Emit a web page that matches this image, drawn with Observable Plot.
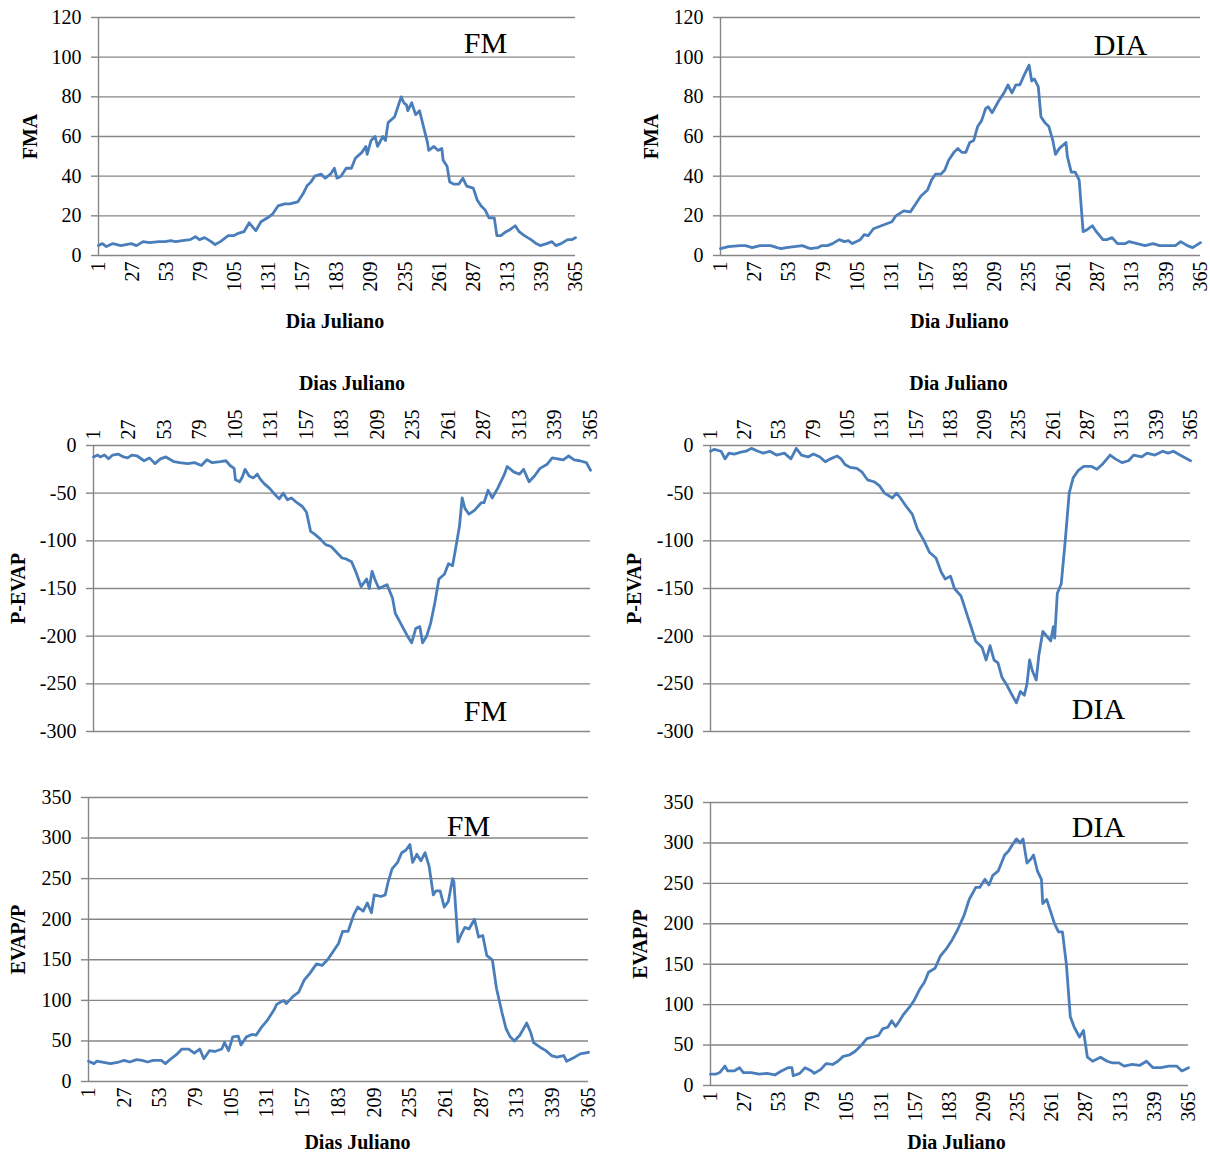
<!DOCTYPE html>
<html>
<head>
<meta charset="utf-8">
<script src="https://cdn.jsdelivr.net/npm/d3@7"></script>
<script src="https://cdn.jsdelivr.net/npm/@observablehq/plot@0.6"></script>
<style>
  html, body { margin: 0; padding: 0; background: #fff; }
  #wrap { position: relative; width: 1210px; height: 1154px; background: #fff; overflow: hidden; }
  #wrap > div { position: absolute; }
  #wrap svg, #wrap svg text { font-family: 'Liberation Serif', 'Times New Roman', Times, serif !important; }
</style>
</head>
<body>
<div id="wrap"></div>
<script>
// ---------- DATA ----------
const dayTicks = [1, 27, 53, 79, 105, 131, 157, 183, 209, 235, 261, 287, 313, 339, 365];
const fmaTicks = [0, 20, 40, 60, 80, 100, 120];
const pevapTicks = [0, -50, -100, -150, -200, -250, -300];
const evapTicks = [0, 50, 100, 150, 200, 250, 300, 350];

// [Julian day, value]
const fmFMA = [[1,5],[4,6],[7,4.5],[12,6],[18,5],[22,5.5],[26,6],[30,5],[35,7],[40,6.5],[47,7],[52,7],[56,7.5],[60,7],[65,7.5],[71,8],[75,9.5],[78,8],[80,8.5],[82,9],[87,7],[90,5.5],[94,7],[100,10],[104,10],[107,11],[112,12],[116,16.5],[121,12.5],[125,17],[130,19],[134,21],[138,25],[143,26],[147,26],[153,27],[157,31],[160,35],[163,37],[166,40],[171,41],[174,39],[178,41],[181,44],[183,39],[186,40],[190,44],[194,44],[197,49],[202,52],[205,55],[206,51],[209,58],[212,60],[214,55],[218,60],[220,58],[222,67],[227,70],[230,76],[232,80],[234,77],[236,76],[237,73],[240,77],[243,71],[246,73],[249,65],[252,57],[253,53],[257,55],[260,53],[263,54],[264,48],[267,45],[269,37],[272,36],[276,36],[279,39],[282,35],[287,34],[290,28],[293,25],[296,23],[299,19],[303,19],[305,10],[308,10],[312,12],[315,13],[319,15],[322,12],[326,10],[331,8],[335,6],[338,5],[343,6],[347,7],[350,5],[354,6],[359,8],[362,8],[365,9]];

const diaFMA = [[1,3.5],[7,4.5],[16,5],[20,5],[25,4],[31,5],[39,5],[44,4],[47,3.5],[51,4],[57,4.5],[63,5],[67,4],[69,3.5],[75,4],[78,5],[82,5],[86,6],[91,8],[95,7],[98,7.5],[101,6],[107,8],[110,10.5],[113,10],[117,13.5],[123,15],[127,16],[131,17],[134,20],[140,22.5],[145,22],[149,26],[153,30],[158,33],[161,38],[164,41],[168,41],[171,43],[174,48],[178,52],[181,54],[184,52],[187,52],[190,57],[193,58],[196,65],[199,68],[202,74],[204,75],[207,72],[212,78],[216,82],[219,86],[222,82],[225,86],[228,86],[232,92],[235,96],[237,88],[239,89],[242,85],[244,70],[247,67],[250,65],[253,58],[255,51],[258,54],[263,57],[264,50],[267,42],[270,42],[273,38],[276,12],[279,13],[283,15],[286,12],[291,8],[294,8],[298,9],[302,6],[308,6],[311,7],[317,6],[323,5],[329,6],[334,5],[340,5],[346,5],[350,7],[355,5],[359,4],[365,6.5]];

const fmPEVAP = [[1,-12],[4,-10],[6,-12],[9,-10],[12,-14],[15,-10],[19,-9],[23,-12],[26,-13],[29,-10],[33,-11],[38,-16],[42,-13],[46,-19],[50,-14],[54,-12],[60,-17],[64,-18],[70,-19],[75,-18],[80,-21],[84,-15],[88,-18],[94,-17],[98,-16],[101,-21],[104,-24],[105,-36],[108,-38],[110,-33],[112,-25],[115,-32],[118,-34],[121,-30],[123,-35],[126,-40],[130,-45],[133,-50],[137,-56],[140,-50],[143,-57],[146,-55],[150,-60],[154,-64],[157,-70],[160,-90],[163,-93],[167,-98],[171,-104],[175,-106],[179,-112],[183,-118],[186,-119],[190,-122],[193,-132],[197,-148],[201,-140],[203,-150],[205,-132],[207,-140],[210,-150],[213,-148],[216,-146],[220,-160],[222,-176],[225,-184],[228,-192],[231,-200],[234,-207],[237,-192],[240,-190],[242,-207],[245,-200],[248,-186],[251,-165],[254,-140],[258,-135],[261,-124],[264,-126],[266,-110],[269,-85],[271,-55],[273,-66],[276,-72],[280,-68],[285,-60],[287,-60],[290,-47],[293,-55],[297,-45],[302,-30],[304,-22],[309,-28],[313,-30],[316,-25],[320,-38],[324,-32],[328,-24],[333,-20],[337,-13],[341,-14],[345,-15],[349,-11],[353,-15],[357,-16],[362,-18],[365,-26]];

const diaPEVAP = [[1,-6],[4,-4],[9,-6],[12,-14],[15,-8],[19,-9],[24,-7],[28,-6],[32,-3],[37,-6],[41,-8],[46,-6],[51,-10],[57,-8],[62,-14],[66,-3],[70,-10],[75,-12],[79,-9],[84,-12],[88,-17],[92,-14],[97,-11],[100,-14],[103,-20],[107,-23],[112,-24],[116,-28],[120,-36],[125,-38],[129,-42],[133,-50],[139,-55],[142,-50],[145,-55],[150,-65],[154,-72],[158,-88],[163,-100],[167,-112],[172,-118],[176,-133],[179,-140],[183,-137],[186,-150],[191,-158],[195,-175],[199,-192],[202,-205],[207,-212],[210,-225],[213,-210],[216,-225],[219,-228],[222,-243],[226,-252],[229,-260],[233,-270],[236,-258],[239,-262],[241,-250],[243,-225],[245,-236],[248,-246],[250,-220],[253,-195],[256,-200],[259,-205],[261,-190],[262,-202],[264,-155],[267,-145],[270,-100],[273,-50],[276,-34],[280,-26],[284,-22],[290,-22],[294,-25],[298,-20],[304,-10],[308,-14],[313,-18],[318,-16],[322,-10],[328,-12],[332,-8],[338,-10],[344,-6],[348,-8],[352,-6],[357,-10],[365,-16]];

const fmEVAPP = [[1,25],[5,22],[7,25],[11,24],[17,22],[23,24],[27,26],[31,24],[36,27],[40,26],[44,24],[48,26],[54,26],[57,22],[61,28],[65,33],[69,40],[74,40],[78,35],[82,40],[85,28],[89,38],[93,37],[98,40],[100,48],[103,38],[106,55],[110,56],[112,45],[116,55],[120,58],[123,57],[127,67],[131,75],[136,88],[138,95],[143,100],[145,96],[150,105],[154,110],[158,125],[162,133],[167,145],[171,143],[175,150],[179,160],[183,170],[186,185],[190,185],[194,205],[197,215],[201,210],[204,220],[207,208],[209,230],[214,228],[217,230],[219,245],[222,262],[226,270],[229,282],[232,285],[235,292],[237,270],[240,280],[243,272],[246,282],[249,265],[252,230],[254,235],[257,235],[260,215],[263,222],[266,250],[267,246],[270,172],[272,180],[275,190],[278,188],[282,200],[285,178],[288,180],[291,155],[295,150],[298,115],[302,85],[305,65],[308,55],[311,50],[315,57],[320,72],[323,60],[325,48],[330,42],[334,38],[338,32],[342,30],[347,32],[349,25],[355,30],[359,34],[365,36]];

const diaEVAPP = [[1,14],[5,14],[8,16],[12,24],[14,18],[19,18],[23,22],[26,16],[32,16],[38,14],[44,15],[50,13],[55,18],[60,22],[63,22],[64,12],[69,15],[73,22],[78,18],[80,15],[85,20],[89,27],[94,26],[98,30],[102,36],[107,38],[111,42],[116,50],[120,58],[125,60],[129,62],[132,70],[136,72],[139,80],[142,73],[145,80],[148,88],[153,98],[156,105],[160,118],[164,128],[167,140],[172,145],[176,160],[181,170],[185,180],[189,192],[194,210],[198,230],[203,245],[206,245],[210,255],[213,248],[216,260],[220,265],[225,285],[228,290],[231,298],[234,305],[237,300],[239,305],[242,275],[245,280],[247,285],[250,265],[253,255],[254,225],[257,230],[260,215],[263,200],[266,190],[269,190],[272,150],[275,85],[278,72],[282,60],[285,68],[288,35],[292,30],[298,35],[303,30],[307,28],[312,28],[316,24],[322,26],[328,25],[333,30],[338,22],[344,22],[350,24],[356,24],[360,18],[365,22]];

// ---------- DRAWING ----------
const FONT = "'Liberation Serif', 'Times New Roman', Times, serif";
const GRID = "#868686";
const LINE = "#4A7EBB";

function panel(cfg) {
  const data = cfg.series.map(([day, v]) => ({day, v}));
  const xTop = cfg.xAnchor === "top";
  const svg = Plot.plot({
    width: cfg.w, height: cfg.h,
    marginLeft: cfg.ml, marginRight: cfg.mr, marginTop: cfg.mt, marginBottom: cfg.mb,
    style: {fontFamily: FONT, background: "transparent", overflow: "visible", color: "black"},
    x: {domain: [1, 365]},
    y: {domain: cfg.yDomain},
    marks: [
      Plot.gridY(cfg.yTicks, {stroke: GRID, strokeOpacity: 1, strokeWidth: 1.4}),
      Plot.ruleX([1], {stroke: GRID, strokeWidth: 1.4}),
      Plot.axisY(cfg.yTicks, {tickSize: 7, tickPadding: 10, stroke: GRID, strokeWidth: 1.4, fontSize: 20, fontFamily: FONT, fill: "black", label: null, tickFormat: d => String(d)}),
      Plot.axisX(dayTicks, {anchor: cfg.xAnchor, tickRotate: -90, tickSize: 0, tickPadding: 6, fontSize: 20, fontFamily: FONT, fill: "black", label: null, tickFormat: d => String(d)}),
      Plot.line(data, {x: "day", y: "v", stroke: LINE, strokeWidth: 2.8, strokeLinejoin: "round"}),
      Plot.text([cfg.yTitle], {text: d => d, frameAnchor: "left", rotate: -90, dx: cfg.ytDx, dy: cfg.ytDy || 0, textAnchor: "middle", lineAnchor: "middle", fontFamily: FONT, fontWeight: "bold", fontSize: 20, fill: "black"}),
      Plot.text([cfg.xTitle], {text: d => d, frameAnchor: xTop ? "top" : "bottom", dx: cfg.xtDx, dy: cfg.xtDy, textAnchor: "middle", lineAnchor: "middle", fontFamily: FONT, fontWeight: "bold", fontSize: 20, fill: "black"}),
      Plot.text([cfg.tag], {text: d => d, frameAnchor: cfg.tagAnchor, dx: cfg.tagDx, dy: cfg.tagDy, textAnchor: "middle", lineAnchor: "middle", fontFamily: FONT, fontSize: 30, fill: "black"})
    ]
  });
  const holder = document.createElement("div");
  holder.style.left = cfg.left + "px";
  holder.style.top = cfg.top + "px";
  holder.appendChild(svg);
  document.getElementById("wrap").appendChild(holder);
}

panel({series: fmFMA, yTicks: fmaTicks, yDomain: [0, 120], yTitle: "FMA", xTitle: "Dia Juliano", tag: "FM", xAnchor: "bottom",
  left: 0, top: 0, w: 605, h: 345, ml: 98, mr: 30, mt: 17, mb: 90,
  ytDx: -68, xtDx: -2, xtDy: 66, tagAnchor: "top-right", tagDx: -90, tagDy: 26});

panel({series: diaFMA, yTicks: fmaTicks, yDomain: [0, 120], yTitle: "FMA", xTitle: "Dia Juliano", tag: "DIA", xAnchor: "bottom",
  left: 605, top: 0, w: 605, h: 345, ml: 115, mr: 10, mt: 17, mb: 90,
  ytDx: -69, xtDx: -1, xtDy: 66, tagAnchor: "top-right", tagDx: -80, tagDy: 28});

panel({series: fmPEVAP, yTicks: pevapTicks, yDomain: [-300, 0], yTitle: "P-EVAP", xTitle: "Dias Juliano", tag: "FM", xAnchor: "top",
  left: 0, top: 350, w: 605, h: 400, ml: 93, mr: 15, mt: 95, mb: 19,
  ytDx: -75, xtDx: 10, xtDy: -62, tagAnchor: "bottom-right", tagDx: -105, tagDy: -20});

panel({series: diaPEVAP, yTicks: pevapTicks, yDomain: [-300, 0], yTitle: "P-EVAP", xTitle: "Dia Juliano", tag: "DIA", xAnchor: "top",
  left: 605, top: 350, w: 605, h: 400, ml: 105, mr: 20, mt: 95, mb: 19,
  ytDx: -76, xtDx: 8, xtDy: -62, tagAnchor: "bottom-right", tagDx: -92, tagDy: -22});

panel({series: fmEVAPP, yTicks: evapTicks, yDomain: [0, 350], yTitle: "EVAP/P", xTitle: "Dias Juliano", tag: "FM", xAnchor: "bottom",
  left: 0, top: 760, w: 605, h: 394, ml: 88, mr: 17, mt: 37, mb: 73,
  ytDx: -70, xtDx: 19, xtDy: 61, tagAnchor: "top-right", tagDx: -120, tagDy: 29});

panel({series: diaEVAPP, yTicks: evapTicks, yDomain: [0, 350], yTitle: "EVAP/P", xTitle: "Dia Juliano", tag: "DIA", xAnchor: "bottom",
  left: 605, top: 760, w: 605, h: 394, ml: 105, mr: 22, mt: 42, mb: 69,
  ytDx: -70, xtDx: 7, xtDy: 57, tagAnchor: "top-right", tagDx: -90, tagDy: 25});
</script>
</body>
</html>
